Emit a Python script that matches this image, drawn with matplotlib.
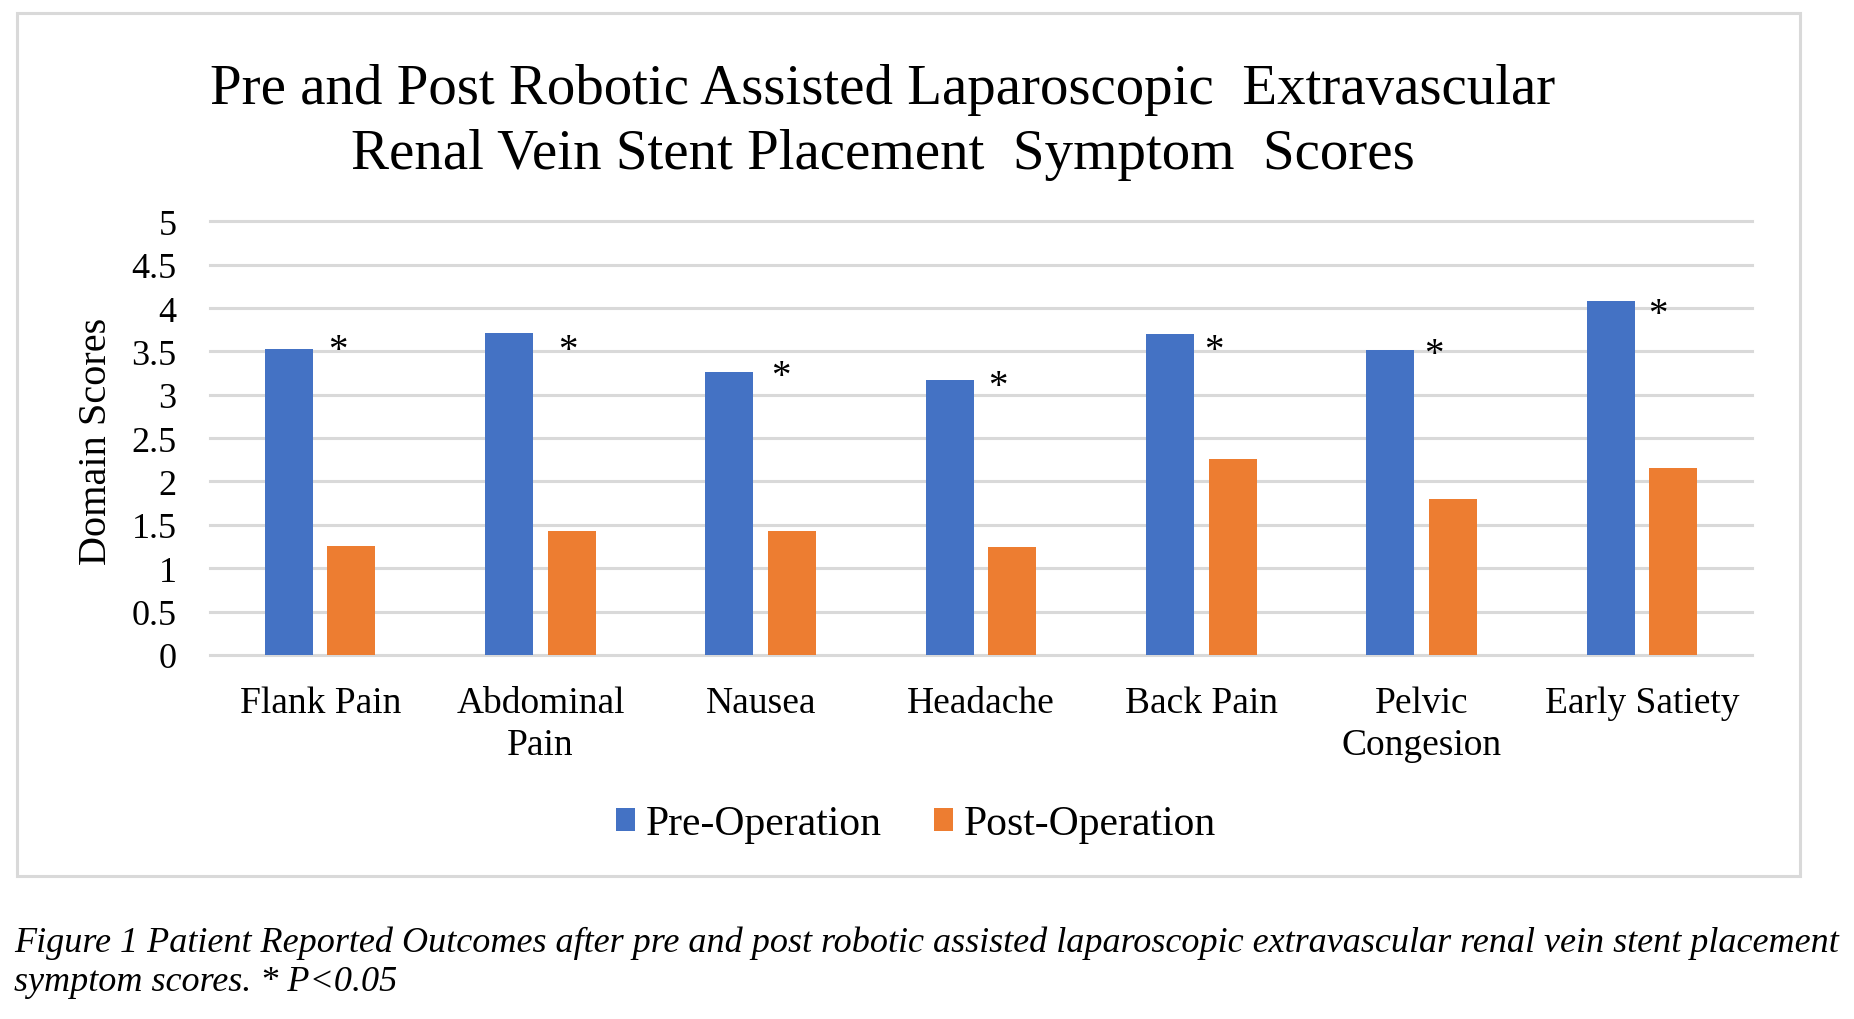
import matplotlib
matplotlib.use("Agg")
import matplotlib.pyplot as plt
from matplotlib.patches import Patch, Rectangle
import numpy as np

categories = ["Flank Pain", "Abdominal\nPain", "Nausea", "Headache", "Back Pain", "Pelvic\nCongesion", "Early Satiety"]
pre_op = [3.53, 3.71, 3.26, 3.17, 3.70, 3.52, 4.08]
post_op = [1.25, 1.43, 1.43, 1.24, 2.26, 1.80, 2.15]
# significance markers
star_x = [0.082, 1.123, 2.089, 3.077, 4.059, 5.057, 6.072]
star_y = [3.61, 3.61, 3.31, 3.19, 3.61, 3.56, 4.03]
y_ticks = [0, 0.5, 1, 1.5, 2, 2.5, 3, 3.5, 4, 4.5, 5]
y_tick_labels = ["0", "0.5", "1", "1.5", "2", "2.5", "3", "3.5", "4", "4.5", "5"]
series_names = ["Pre-Operation", "Post-Operation"]
title_lines = ["Pre and Post Robotic Assisted Laparoscopic  Extravascular",
               "Renal Vein Stent Placement  Symptom  Scores"]
caption_lines = ["Figure 1 Patient Reported Outcomes after pre and post robotic assisted laparoscopic extravascular renal vein stent placement",
                 "symptom scores. * P<0.05"]

BLUE = "#4472C4"
ORANGE = "#ED7D31"
GRID = "#D9D9D9"

plt.rcParams["font.family"] = ["Liberation Serif", "DejaVu Serif"]

fig = plt.figure(figsize=(18.54, 10.20), dpi=100)
fig.patch.set_facecolor("white")

# outer chart border
fig.add_artist(Rectangle((0.0089, 0.140), 0.962, 0.846, transform=fig.transFigure,
                         fill=False, edgecolor=GRID, linewidth=2.2))

ax = fig.add_axes([0.1133, 0.357, 0.8317, 0.425])
x = np.arange(len(categories))
w = 0.218
off = 0.142
ax.bar(x - off, pre_op, width=w, color=BLUE, zorder=3, label=series_names[0])
ax.bar(x + off, post_op, width=w, color=ORANGE, zorder=3, label=series_names[1])

for yv in y_ticks:
    ax.axhline(yv, color=GRID, linewidth=2.2, zorder=1, clip_on=False)

for sx, sy in zip(star_x, star_y):
    ax.annotate("*", xy=(sx, sy), xytext=(0, -13), textcoords="offset points",
                ha="center", va="baseline", fontsize=28, color="black", zorder=4)

ax.set_xlim(-0.5, len(categories) - 0.5)
ax.set_ylim(0, 5)
ax.set_yticks(y_ticks)
ax.set_yticklabels(y_tick_labels, fontsize=26)
ax.set_xticks(x)
ax.set_xticklabels(categories, fontsize=27, linespacing=1.3)
ax.tick_params(axis="y", length=0, pad=24)
ax.tick_params(axis="x", length=0, pad=22)
for s in ax.spines.values():
    s.set_visible(False)
ax.set_facecolor("none")

fig.text(0.0518, 0.567, "Domain Scores", rotation=90, ha="center", va="center", fontsize=29)

fig.text(0.476, 0.898, title_lines[0], ha="center", va="baseline", fontsize=41)
fig.text(0.476, 0.834, title_lines[1], ha="center", va="baseline", fontsize=41)

handles = [Patch(facecolor=BLUE, edgecolor="none"), Patch(facecolor=ORANGE, edgecolor="none")]
fig.legend(handles, series_names, loc="center", bbox_to_anchor=(0.494, 0.191), ncol=2,
           frameon=False, fontsize=30, handlelength=0.46, handleheight=0.46,
           handletextpad=0.25, columnspacing=1.25)

fig.text(0.0075, 1 - 952 / 1020, caption_lines[0], ha="left", va="baseline", fontsize=26, style="italic")
fig.text(0.0075, 1 - 991 / 1020, caption_lines[1], ha="left", va="baseline", fontsize=26, style="italic")

fig.savefig("out.png", dpi=100, facecolor="white")
